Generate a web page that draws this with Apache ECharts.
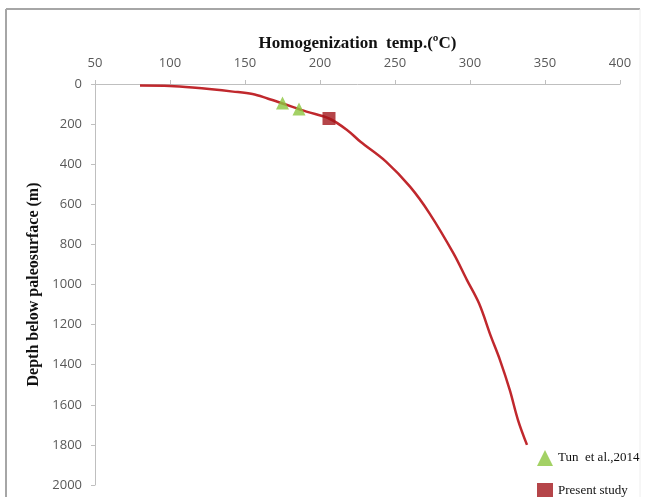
<!DOCTYPE html>
<html>
<head>
<meta charset="utf-8">
<script src="https://cdn.jsdelivr.net/npm/echarts@6/dist/echarts.min.js"></script>
<style>
  html, body { margin: 0; padding: 0; background: #fff; }
  #chart { width: 645px; height: 497px; }
</style>
</head>
<body>
<div id="chart"></div>
<script>
// 曲线：温度 - 深度
const curveTemp = [80, 100, 115, 142, 155, 165, 175, 191, 206, 218, 227, 244, 260, 273, 289, 298, 306, 314, 320, 326.5, 332, 338]
const curveDepth = [8, 10, 18, 38, 50, 72, 97, 138, 172, 229, 288, 387, 512, 645, 845, 978, 1094, 1260, 1377, 1526, 1676, 1800]

// 散点
const tunTemp = [175, 186]
const tunDepth = [95, 125]
const presentTemp = [206]
const presentDepth = [172]

const legendNames = ['Tun  et al.,2014', 'Present study']

const pairs = (xs, ys) => xs.map((x, i) => [x, ys[i]])

const chart = echarts.init(document.getElementById('chart'))

const axisLabelStyle = {
  color: '#595959',
  fontFamily: 'Open Sans',
  fontSize: 13
}
const axisLineStyle = { lineStyle: { color: '#bfbfbf', width: 1 } }
const legendText = { fontFamily: 'Liberation Serif', fontSize: 13, color: '#111' }

const option = {
  animation: false,
  backgroundColor: '#fff',
  grid: { left: 95, right: 25, top: 84, bottom: 12 },
  // 外框
  graphic: [
    { type: 'line', shape: { x1: 6, y1: 9, x2: 6, y2: 497 }, style: { stroke: '#a6a6a6', lineWidth: 2 } },
    { type: 'line', shape: { x1: 6, y1: 9, x2: 640, y2: 9 }, style: { stroke: '#a6a6a6', lineWidth: 2 } },
    { type: 'line', shape: { x1: 640, y1: 9, x2: 640, y2: 497 }, style: { stroke: '#eeeeee', lineWidth: 1 } }
  ],
  xAxis: {
    type: 'value',
    position: 'top',
    min: 50,
    max: 400,
    interval: 50,
    name: 'Homogenization  temp.(ºC)',
    nameLocation: 'middle',
    nameGap: 32,
    nameTextStyle: { fontFamily: 'Liberation Serif', fontWeight: 'bold', fontSize: 17, color: '#111' },
    axisLine: axisLineStyle,
    axisTick: { show: true, length: 4, lineStyle: { color: '#bfbfbf' } },
    axisLabel: Object.assign({ margin: 14 }, axisLabelStyle),
    splitLine: { show: false }
  },
  yAxis: {
    type: 'value',
    inverse: true,
    min: 0,
    max: 2000,
    interval: 200,
    name: 'Depth below paleosurface (m)',
    nameLocation: 'middle',
    nameGap: 50,
    nameTextStyle: { fontFamily: 'Liberation Serif', fontWeight: 'bold', fontSize: 16, color: '#111' },
    axisLine: axisLineStyle,
    axisTick: { show: true, length: 4, lineStyle: { color: '#bfbfbf' } },
    axisLabel: Object.assign({ margin: 13, formatter: (v) => String(v) }, axisLabelStyle),
    splitLine: { show: false }
  },
  // 两个图例分开摆放
  legend: [
    {
      data: [{ name: legendNames[0], icon: 'triangle' }],
      left: 532,
      top: 445,
      itemWidth: 16,
      itemHeight: 16,
      textStyle: legendText
    },
    {
      data: [{ name: legendNames[1], icon: 'rect' }],
      left: 532,
      top: 478,
      itemWidth: 16,
      itemHeight: 16,
      textStyle: legendText
    }
  ],
  series: [
    {
      name: 'curve',
      type: 'line',
      smooth: 0.35,
      showSymbol: false,
      data: pairs(curveTemp, curveDepth),
      lineStyle: { color: '#c0282d', width: 2.5 },
      z: 2
    },
    {
      name: legendNames[0],
      type: 'scatter',
      symbol: 'triangle',
      symbolSize: 13,
      data: pairs(tunTemp, tunDepth),
      itemStyle: { color: '#8cc63f' },
      z: 3
    },
    {
      name: legendNames[1],
      type: 'scatter',
      symbol: 'rect',
      symbolSize: 13,
      data: pairs(presentTemp, presentDepth),
      itemStyle: { color: '#a3161b' },
      z: 3
    }
  ]
}

chart.setOption(option)
</script>
</body>
</html>
